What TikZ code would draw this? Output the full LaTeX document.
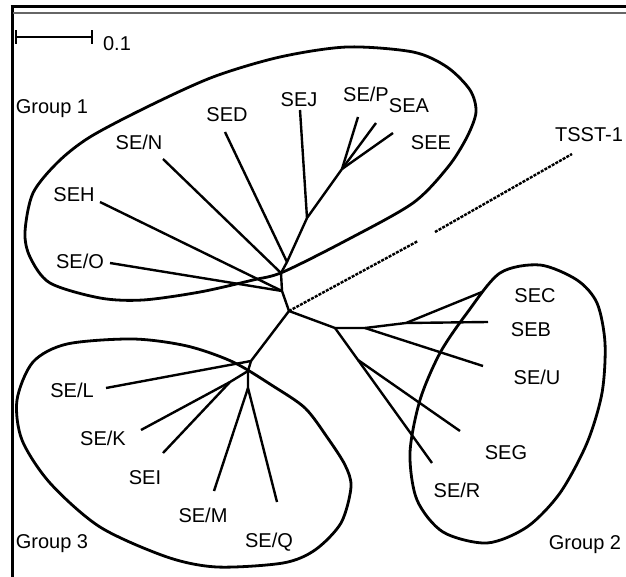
\documentclass[tikz,border=0pt]{standalone}
\usepackage{fontspec}
\setmainfont{Liberation Sans}
\begin{document}
\begin{tikzpicture}[x=1pt,y=-1pt,
  lbl/.style={inner sep=0pt, anchor=base, font=\fontsize{20}{24}\selectfont},
  br/.style={line width=2.4pt},
  grp/.style={line width=2.8pt},
  frm/.style={line width=3pt},
  tsst/.style={line width=2.4pt, dash pattern=on 3pt off 1.2pt}]
\useasboundingbox (0,0) rectangle (626,577);
% frame
\coordinate (f1) at (10.5,7); \coordinate (f2) at (626,7);
\coordinate (f3) at (12,5.5); \coordinate (f4) at (12,577);
\coordinate (g1) at (13,13); \coordinate (g2) at (626,13);
\draw[frm] (f1) -- (f2);
\draw[frm] (f3) -- (f4);
\draw[line width=2pt, black!60] (g1) -- (g2);
% scale bar
\coordinate (s1) at (16,37); \coordinate (s2) at (92,37);
\draw[line width=2pt] (s1) -- (s2);
\draw[line width=2.4pt] ([yshift=-7pt]s1) -- ([yshift=7pt]s1);
\draw[line width=2pt] ([yshift=-7pt]s2) -- ([yshift=7pt]s2);
\node[lbl] (scl) at (117,51) {0.1};
% group outlines
\draw[grp] plot[smooth cycle] coordinates {(25,232) (33,193) (58,162) (90,137) (147,107) (213,77) (280,57) (347,47) (413,52) (447,67) (470,90) (476,112) (467,137) (448,167) (413,203) (347,240) (283,272) (253,280) (200,292) (143,300) (100,298) (50,283) (30,257)};
\draw[grp] plot[smooth cycle] coordinates {(467,313) (500,273) (540,265) (577,280) (597,303) (605,343) (602,393) (587,443) (560,493) (527,527) (487,543) (443,532) (417,500) (410,453) (420,400) (440,353)};
\draw[grp] plot[smooth cycle] coordinates {(17,400) (33,362) (67,344) (133,339) (187,346) (233,362) (273,386) (305,408) (327,437) (345,465) (351,487) (341,523) (315,550) (283,563) (217,567) (167,557) (100,527) (50,483) (22,440)};
% tree nodes
\coordinate (nD) at (289,311);
\coordinate (nC) at (282,291);
\coordinate (nB) at (281,273);
\coordinate (nA) at (287,262);
\coordinate (nJ) at (307,218);
\coordinate (nP) at (342,169);
\coordinate (eH) at (100,202);
\coordinate (eO) at (110,263);
\coordinate (eN) at (163,159);
\coordinate (eD) at (225,132);
\coordinate (eJ) at (300,110);
\coordinate (eP) at (358,117);
\coordinate (eA) at (376,123);
\coordinate (eE) at (393,133);
\coordinate (nE) at (335,328);
\coordinate (nF) at (365,328);
\coordinate (nH) at (406,323);
\coordinate (eB) at (488,322);
\coordinate (eC) at (482,292);
\coordinate (eU) at (483,366);
\coordinate (nG) at (358,360);
\coordinate (eG) at (460,431);
\coordinate (eR) at (432,463);
\coordinate (t1) at (418,241);
\coordinate (t2) at (435,232);
\coordinate (eT) at (572,154);
\coordinate (nK1) at (251,361);
\coordinate (nK2) at (248,371);
\coordinate (nM) at (230,382);
\coordinate (nL) at (248,388);
\coordinate (eL) at (106,388);
\coordinate (eK) at (141,430);
\coordinate (eI) at (163,453);
\coordinate (eM) at (214,491);
\coordinate (eQ) at (277,502);
% group 1 branches
\draw[br] (nD) -- (nC) -- (nB) -- (nA) -- (nJ) -- (nP);
\draw[br] (nC) -- (eH);
\draw[br] (nC) -- (eO);
\draw[br] (nB) -- (eN);
\draw[br] (nA) -- (eD);
\draw[br] (nJ) -- (eJ);
\draw[br] (nP) -- (eP);
\draw[br] (nP) -- (eA);
\draw[br] (nP) -- (eE);
% group 2 branches
\draw[br] (nD) -- (nE) -- (nF) -- (nH) -- (eB);
\draw[br] (nH) -- (eC);
\draw[br] (nF) -- (eU);
\draw[br] (nE) -- (nG) -- (eR);
\draw[br] (nG) -- (eG);
% TSST-1
\draw[tsst] (nD) -- (t1);
\draw[tsst] (t2) -- (eT);
% group 3 branches
\draw[br] (nD) -- (nK1) -- (nK2) -- (nL);
\draw[br] (nK1) -- (eL);
\draw[br] (nK2) -- (nM) -- (eK);
\draw[br] (nM) -- (eI);
\draw[br] (nL) -- (eM);
\draw[br] (nL) -- (eQ);
% labels
\node[lbl] (lg1) at (52,114) {Group 1};
\node[lbl] (lSED) at (227,122) {SED};
\node[lbl] (lSEJ) at (299,107) {SEJ};
\node[lbl] (lSEP) at (366,102) {SE/P};
\node[lbl] (lSEA) at (409,113) {SEA};
\node[lbl] (lSEE) at (431,150) {SEE};
\node[lbl] (lSEN) at (139,150) {SE/N};
\node[lbl] (lSEH) at (74,202) {SEH};
\node[lbl] (lSEO) at (80,269) {SE/O};
\node[lbl] (lTSST) at (589,142) {TSST-1};
\node[lbl] (lSEC) at (535,302) {SEC};
\node[lbl] (lSEB) at (531,336) {SEB};
\node[lbl] (lSEU) at (537,384) {SE/U};
\node[lbl] (lSEG) at (506,459) {SEG};
\node[lbl] (lSER) at (457,497) {SE/R};
\node[lbl] (lg2) at (585,549) {Group 2};
\node[lbl] (lSEL) at (72,397) {SE/L};
\node[lbl] (lSEK) at (103,445) {SE/K};
\node[lbl] (lSEI) at (145,484) {SEI};
\node[lbl] (lSEM) at (203,522) {SE/M};
\node[lbl] (lSEQ) at (269,547) {SE/Q};
\node[lbl] (lg3) at (52,548) {Group 3};
\end{tikzpicture}
\end{document}
